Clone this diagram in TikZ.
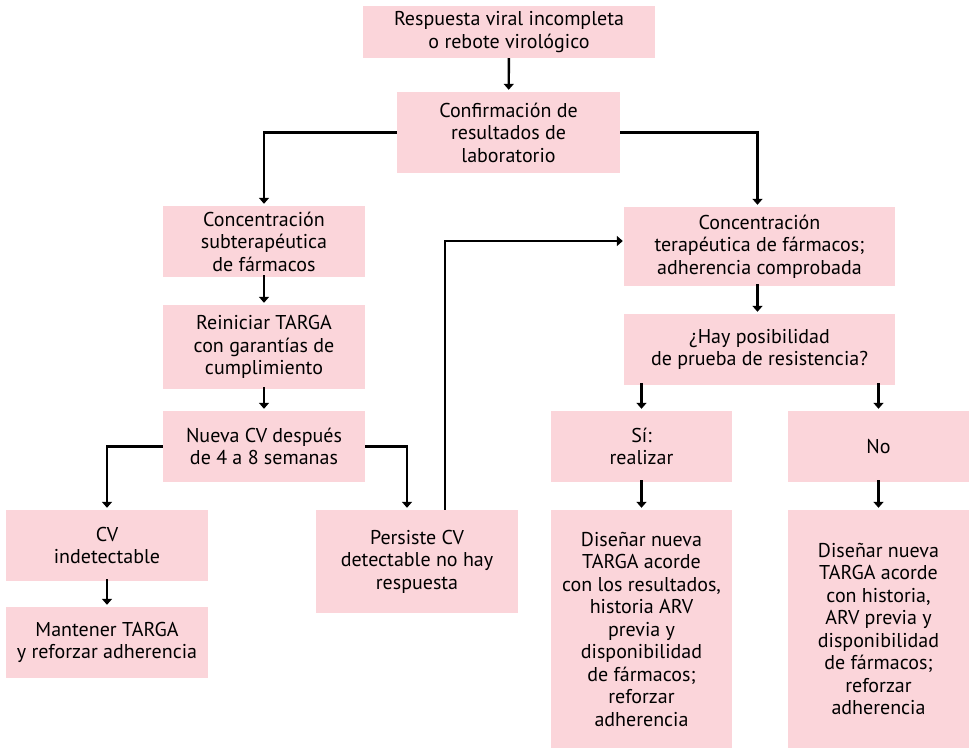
\documentclass[tikz,border=0pt]{standalone}
\usepackage{fontspec}
\setmainfont{PT Sans}
\usetikzlibrary{arrows.meta}
\definecolor{rosa}{RGB}{251,213,218}

\begin{document}
\begin{tikzpicture}[x=1pt,y=-1pt]
        \useasboundingbox (0,0) rectangle (972,749);

        \begin{scope}[every node/.style={rectangle, fill=rosa, align=center, inner sep=0pt, font=\fontsize{20}{22.5}\selectfont}]
          \node[minimum width=292, minimum height=52]  (1)  at (509,32)    {Respuesta viral incompleta\\o rebote virológico};
          \node[minimum width=223, minimum height=81]  (2)  at (508.5,132.5) {Confirmación de\\resultados de\\laboratorio};
          \node[minimum width=202, minimum height=71]  (3)  at (264,241.5) {Concentración\\subterapéutica\\de fármacos};
          \node[minimum width=202, minimum height=84]  (4)  at (264,347)   {Reiniciar TARGA\\con garantías de\\cumplimiento};
          \node[minimum width=202, minimum height=71]  (5)  at (264,446.5) {Nueva CV después\\de 4 a 8 semanas};
          \node[minimum width=202, minimum height=71]  (6)  at (107,545.5) {CV\\indetectable};
          \node[minimum width=202, minimum height=71]  (7)  at (107,642.5) {Mantener TARGA\\y reforzar adherencia};
          \node[minimum width=202, minimum height=103] (8)  at (417,561.5) {Persiste CV\\detectable no hay\\respuesta};
          \node[minimum width=271, minimum height=79]  (9)  at (759.5,246.5) {Concentración\\terapéutica de fármacos;\\adherencia comprobada};
          \node[minimum width=271, minimum height=71]  (10) at (759.5,349.5) {¿Hay posibilidad\\de prueba de resistencia?};
          \node[minimum width=181, minimum height=71]  (11) at (641.5,446.5) {Sí:\\realizar};
          \node[minimum width=181, minimum height=71]  (12) at (878.5,446.5) {No};
          \node[minimum width=181, minimum height=238] (13) at (641.5,629)
            {Diseñar nueva\\TARGA acorde\\con los resultados,\\historia ARV\\previa y\\disponibilidad\\de fármacos;\\reforzar\\adherencia};
          \node[minimum width=181, minimum height=238] (14) at (878.5,629)
            {Diseñar nueva\\TARGA acorde\\con historia,\\ARV previa y\\disponibilidad\\de fármacos;\\reforzar\\adherencia};
        \end{scope}

        \coordinate (vuelta) at (445,241);

        \begin{scope}[line width=2.4pt, -{Triangle[width=10pt,length=6pt]}, shorten >=2pt]
          \draw (1) -- (2);
          \draw (2.west) -| (3.north);
          \draw (2.east) -| ([xshift=-2pt]9.north);
          \draw ([yshift=2pt]3.south) -- (4);
          \draw ([yshift=2pt]4.south) -- (5);
          \draw (5.west) -| (6.north);
          \draw (5.east) -| ([xshift=-10pt]8.north);
          \draw ([yshift=2pt]6.south) -- (7);
          \draw[shorten >=1pt] (8.north -| vuelta) |- (9.west |- vuelta);
          \draw ([xshift=-2pt,yshift=2pt]9.south) -- ([xshift=-2pt]10.north);
          \draw ([yshift=2pt]10.south -| 11) -- (11);
          \draw ([yshift=2pt]10.south -| 12) -- (12);
          \draw ([yshift=2pt]11.south) -- (13);
          \draw ([yshift=2pt]12.south) -- (14);
        \end{scope}

      \end{tikzpicture}
\end{document}
